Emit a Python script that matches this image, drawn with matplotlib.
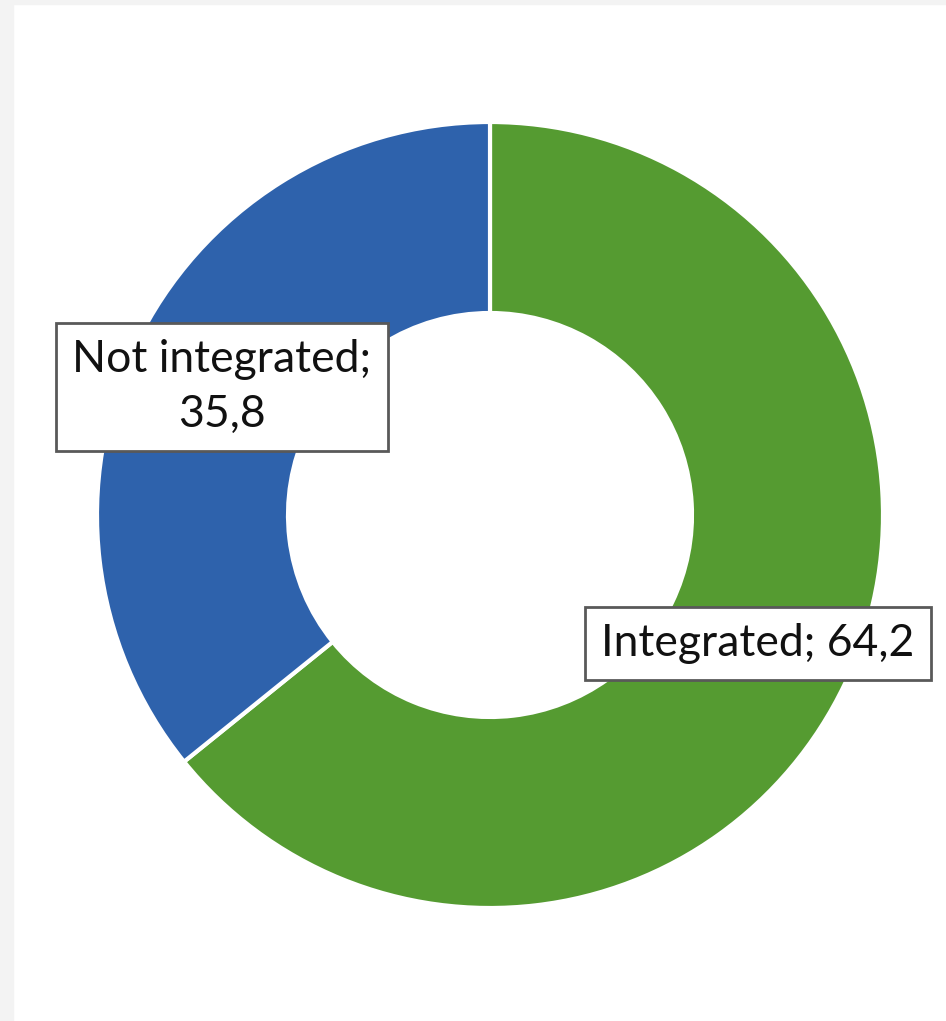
import matplotlib.pyplot as plt
from matplotlib.patches import Rectangle

# share of integrated vs not integrated
labels = ['Integrated', 'Not integrated']
values = [64.2, 35.8]
colors = ['#559B31', '#2E62AC']

W, H = 946, 1021
fig = plt.figure(figsize=(W / 100, H / 100), dpi=100)
fig.patch.set_facecolor('white')
ax = fig.add_axes([0, 0, 1, 1])

# light grey frame strips on the left and top edges
ax.add_patch(Rectangle((0, 0), 13, H, color='#f3f3f3', zorder=0))
ax.add_patch(Rectangle((0, H - 4), W, 4, color='#f3f3f3', zorder=0))

cx, cy, r = 490, H - 515, 393
ax.pie(values, colors=colors, startangle=90, counterclock=False,
       center=(cx, cy), radius=r, frame=True,
       wedgeprops=dict(width=191, edgecolor='white', linewidth=3))
ax.set_xlim(0, W)
ax.set_ylim(0, H)
ax.axis('off')

box = dict(boxstyle='square,pad=0.36', facecolor='white', edgecolor='#595959', linewidth=2)
font = dict(family='Lato', fontsize=32, color='#111111')

ax.text(222, H - 387, f'{labels[1]};\n{values[1]:.1f}'.replace('.', ','),
        ha='center', va='center', bbox=box, linespacing=1.4, **font)
ax.text(758, H - 643, f'{labels[0]}; {values[0]:.1f}'.replace('.', ','),
        ha='center', va='center', bbox=box, **font)

fig.savefig('out.png', dpi=100)
